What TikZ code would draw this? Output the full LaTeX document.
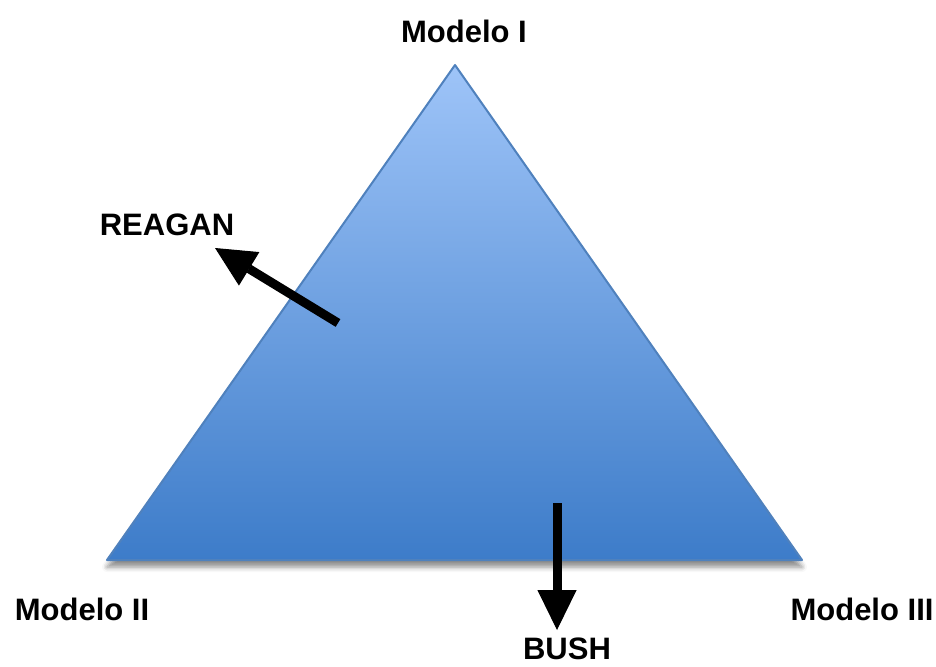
\documentclass[tikz,border=0pt]{standalone}
\usepackage{fontspec}
\setmainfont{Liberation Sans}
\usepackage{tikz}
\usetikzlibrary{positioning,arrows.meta,shadows.blur}
\definecolor{c_edge}{RGB}{79,129,189}
\definecolor{c_top}{RGB}{158,196,248}
\definecolor{c_bottom}{RGB}{61,124,201}
\tikzset{c-label/.style={font=\fontsize{31}{36}\selectfont\bfseries, inner sep=0pt},
arrow/.style={black, line width=9pt,-{Triangle[length=40pt,width=39pt,line width=1pt,fill=black,color=black]}}}

\begin{document}
\begin{tikzpicture}[x=1pt,y=-1pt]
\useasboundingbox (0,0) rectangle (936,666);
\coordinate (m1) at (455,65);
\coordinate (m2) at (107,560);
\coordinate (m3) at (802,560);
\fill [top color=c_top, bottom color=c_bottom, blur shadow={shadow xshift=0pt, shadow yshift=-7pt, shadow opacity=45, shadow blur radius=5pt}]
  (m1) -- (m3) -- (m2) -- cycle;
\draw [c_edge, line width=2pt, line join=round] (m1) -- (m3) -- (m2) -- cycle;
\node (l1) [c-label] at (464,31) {Modelo I};
\node (l2) [c-label] at (82,609) {Modelo II};
\node (l3) [c-label] at (862,609) {Modelo III};
\node (reagan) [c-label] at (167,225) {REAGAN};
\node (bush) [c-label] at (567,649) {BUSH};
\coordinate (r0) at (338,323);
\coordinate (r1) at (215,248);
\coordinate (b0) at (557,503);
\coordinate (b1) at (557,630);
\draw [arrow] (r0) -- (r1);
\draw [arrow] (b0) -- (b1);
\end{tikzpicture}
\end{document}
